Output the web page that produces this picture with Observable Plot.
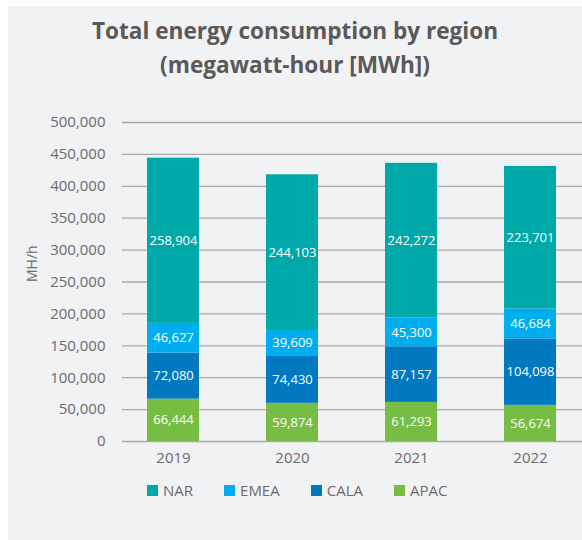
<!DOCTYPE html>
<html>
<head>
<meta charset="utf-8">
<script src="https://cdn.jsdelivr.net/npm/d3@7"></script>
<script src="https://cdn.jsdelivr.net/npm/@observablehq/plot@0.6"></script>
<style>
  html, body { margin: 0; padding: 0; background: #ffffff; }
  body { width: 582px; height: 540px; position: relative; overflow: hidden; font-family: "Open Sans", sans-serif; }
  #panel { position: absolute; left: 8px; top: 6px; width: 574px; height: 534px; background: #f1f2f4; }
  #title { position: absolute; left: 0; top: 8px; width: 574px; text-align: center; font-weight: 700; font-size: 22.6px; line-height: 34px; color: #595959; }
  #chart { position: absolute; left: 0; top: 90px; }
  #legend { position: absolute; left: 139px; top: 473px; display: flex; gap: 31px; font-size: 15px; color: #6b6b6b; }
  .item { display: flex; align-items: center; gap: 5px; height: 22px; }
  .sw { width: 11px; height: 11px; display: inline-block; }
</style>
</head>
<body>
<div id="panel">
  <div id="title">Total energy consumption by region<br>(megawatt-hour [MWh])</div>
  <div id="chart"></div>
  <div id="legend"></div>
</div>
<script>
const years = ["2019", "2020", "2021", "2022"];
const regions = ["NAR", "EMEA", "CALA", "APAC"];
const colors = ["#00a9a9", "#00aeef", "#0079c1", "#77bc43"];
const nar = [258904, 244103, 242272, 223701];
const emea = [46627, 39609, 45300, 46684];
const cala = [72080, 74430, 87157, 104098];
const apac = [66444, 59874, 61293, 56674];
const yTicks = [0, 50000, 100000, 150000, 200000, 250000, 300000, 350000, 400000, 450000, 500000];
const yLabel = "MH/h";

// stacking order bottom to top: APAC, CALA, EMEA, NAR
const series = {APAC: apac, CALA: cala, EMEA: emea, NAR: nar};
const stackOrder = ["APAC", "CALA", "EMEA", "NAR"];
const data = [];
years.forEach((y, i) => {
  stackOrder.forEach(r => data.push({year: y, region: r, value: series[r][i]}));
});

const fmt = d3.format(",");

const chart = Plot.plot({
  width: 574,
  height: 380,
  marginLeft: 114,
  marginRight: 0,
  marginTop: 26,
  marginBottom: 35,
  style: {fontFamily: "Open Sans", fontSize: "15px", background: "transparent", color: "#6b6b6b"},
  x: {domain: years, paddingInner: 0.56, paddingOuter: 0.2},
  y: {domain: [0, 500000]},
  color: {domain: regions, range: colors},
  marks: [
    Plot.ruleY(yTicks, {stroke: "#a9a9a9", strokeWidth: 1.3}),
    Plot.barY(data, Plot.stackY({x: "year", y: "value", z: "region", fill: "region", order: null})),
    Plot.text(data, Plot.stackY({x: "year", y: "value", z: "region", order: null, text: d => fmt(d.value), fill: "white", fontSize: 13})),
    Plot.axisY({ticks: yTicks, tickFormat: fmt, tickSize: 0, tickPadding: 17, label: null, fontSize: 15, fill: "#6b6b6b"}),
    Plot.axisX({tickSize: 0, tickPadding: 11, label: null, fontSize: 15, fill: "#6b6b6b"}),
    Plot.text([yLabel], {frameAnchor: "left", dx: -90, rotate: -90, fontSize: 14, fill: "#6b6b6b"})
  ]
});
document.getElementById("chart").appendChild(chart);

const legend = document.getElementById("legend");
regions.forEach((r, i) => {
  const item = document.createElement("div");
  item.className = "item";
  const sw = document.createElement("span");
  sw.className = "sw";
  sw.style.background = colors[i];
  const t = document.createElement("span");
  t.textContent = r;
  item.appendChild(sw);
  item.appendChild(t);
  legend.appendChild(item);
});
</script>
</body>
</html>
